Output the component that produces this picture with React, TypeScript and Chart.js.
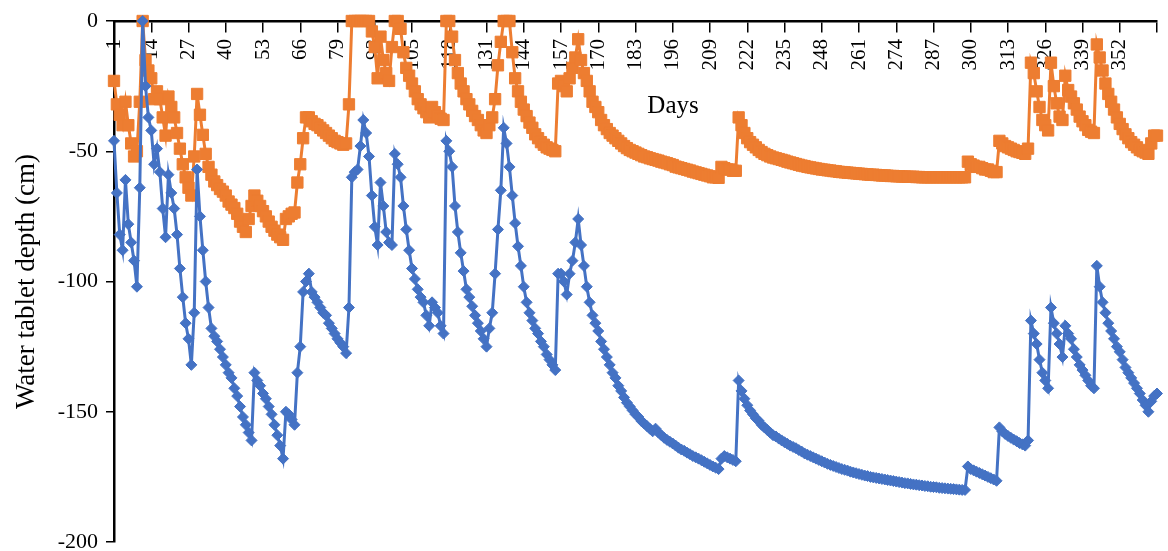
import React, { useEffect, useRef } from 'react';
import { Chart, registerables } from 'chart.js';

Chart.register(...registerables);

// Categories: day of year
const days: number[] = Array.from({ length: 365 }, (_, i) => i + 1);

// Tick labels
const xTickDays: number[] = [1, 14, 27, 40, 53, 66, 79, 92, 105, 118, 131, 144, 157, 170, 183, 196, 209, 222, 235, 248, 261, 274, 287, 300, 313, 326, 339, 352];
const xAxisEnd = 365;
const yTicks: number[] = [0, -50, -100, -150, -200];

// Series 1 (blue, diamonds) – water table depth (cm), days 1..365
const blueDepth: number[] = [
  -46, -66, -82, -88, -61, -78, -85, -92, -102, -64,
  0, -25, -37, -42, -55, -49, -58, -72, -83, -59,
  -66, -72, -82, -95, -106, -116, -122, -132, -112, -57,
  -75, -88, -100, -110, -118, -121, -123, -126, -129, -132,
  -135, -137, -141, -144, -148, -152, -155, -158, -161, -135,
  -138, -140, -143, -145, -148, -151, -155, -159, -163, -168,
  -150, -151, -153, -155, -135, -125, -104, -100, -97, -104,
  -106, -108, -110, -112, -113, -116, -118, -120, -122, -123.5,
  -125, -127.5, -110, -60, -58, -57, -48, -38, -43, -52,
  -67, -79, -86, -62, -71, -81, -85, -86, -51, -55,
  -60, -71, -80, -88, -95, -99, -103, -106, -108, -113,
  -117, -108, -110, -112, -117, -120, -46, -50, -56, -71,
  -81, -89, -96, -103, -106, -109.5, -113, -116, -119, -122,
  -125, -118, -112, -97, -80, -65, -41, -47, -56, -67,
  -77.6, -86.5, -94, -102, -108, -112, -115, -118, -120, -123,
  -125, -128, -130, -132, -134, -97, -97, -100, -105, -97,
  -92, -85, -76, -86, -94, -102, -108, -113, -116, -119,
  -123, -126, -129, -132, -135, -137, -140, -142, -144.5, -146.5,
  -148, -149.5, -151, -152, -153.5, -154.5, -155.5, -156.5, -157.5, -156.5,
  -158, -159, -160, -160.8, -161.5, -162.2, -163, -163.8, -164.5, -165,
  -165.7, -166.3, -167, -167.5, -168, -168.6, -169.2, -169.8, -170.4, -171,
  -171.5, -172, -168, -167, -167.5, -168, -168.5, -169, -138, -142,
  -145, -147.5, -149.5, -151, -152.5, -153.5, -155, -156, -157, -158,
  -159, -159.5, -160.3, -161, -161.7, -162.3, -163, -163.5, -164, -164.7,
  -165.3, -166, -166.5, -167, -167.5, -168, -168.5, -169, -169.5, -170,
  -170.4, -170.8, -171.2, -171.6, -172, -172.3, -172.6, -173, -173.3, -173.6,
  -173.9, -174.2, -174.5, -174.7, -175, -175.2, -175.4, -175.6, -175.8, -176,
  -176.2, -176.4, -176.6, -176.8, -177, -177.2, -177.4, -177.5, -177.7, -177.9,
  -178, -178.2, -178.3, -178.5, -178.6, -178.8, -178.9, -179, -179.2, -179.3,
  -179.4, -179.5, -179.6, -179.7, -179.8, -179.9, -180, -180, -171, -172,
  -172.5, -173, -173.5, -174, -174.5, -175, -175.5, -176, -176.5, -156,
  -157.5, -158.5, -159.3, -160, -160.7, -161.3, -162, -162.5, -163, -161,
  -115, -120, -124, -130, -135, -138, -141, -110, -116, -120,
  -124, -129, -117, -120, -122, -126, -129, -132, -134, -136,
  -138, -140, -141, -94, -102, -108, -112, -116, -119, -122,
  -125, -127, -130, -133, -135, -137, -139, -141, -143, -145.5,
  -147.5, -150, -146, -144, -143,
];

// Series 2 (orange, squares) – water table depth (cm), days 1..365
const orangeDepth: number[] = [
  -23, -32, -36, -40, -31, -40, -47, -52, -50, -31,
  0, -15, -19, -22, -30, -27, -30, -37, -44, -29,
  -33, -37, -43, -49, -55, -60, -64, -67, -52, -28,
  -36, -43.7, -51, -56, -59, -61.6, -63, -64.5, -65.5, -67,
  -69.3, -70.5, -71.8, -74, -77, -79, -81, -76, -71, -67,
  -69, -71, -73, -75, -77, -79, -80.5, -82, -83, -84,
  -76, -75, -74, -73.5, -62, -55, -45, -37, -37, -38.5,
  -39.5, -40, -41, -42, -43, -44, -45, -46, -46.5, -47,
  -47.5, -47, -32, 0, 0, 0, 0, 0, 0, 0,
  -4, -10, -22, -6, -15, -20, -23, -10, 0, 0,
  -3, -12, -18, -21, -24, -27, -30, -32, -33.5, -35,
  -37, -33, -35, -36.5, -37.5, -38, 0, 0, -6, -15,
  -20, -24, -27, -30, -32, -34.5, -36.5, -38, -40, -42,
  -43, -40, -37, -30, -17, -8, 0, 0, 0, -12,
  -22, -27, -31, -34, -36.5, -39, -41, -43.5, -45, -46.5,
  -47.5, -48.5, -49, -49.5, -50, -24, -23, -25, -27, -22,
  -18, -14, -7, -15, -20, -23, -27, -31, -33, -35,
  -38, -40, -41.5, -43, -44, -45, -46, -47, -48, -48.8,
  -49.5, -50, -50.5, -51, -51.5, -52, -52.3, -52.7, -53, -53.3,
  -53.6, -54, -54.3, -54.6, -55, -55.3, -55.9, -56.2, -56.5, -56.8,
  -57.1, -57.4, -57.8, -58.1, -58.4, -58.7, -59, -59.3, -59.6, -60,
  -60, -60.2, -56, -56.5, -57, -57, -57.5, -57.5, -37, -40,
  -43, -45, -46.5, -47.5, -48.5, -49.5, -50.3, -51, -51.5, -52,
  -52.4, -52.7, -53, -53.3, -53.6, -54, -54.3, -54.6, -54.9, -55.2,
  -55.5, -55.7, -56, -56.2, -56.4, -56.6, -56.8, -57, -57.1, -57.3,
  -57.4, -57.6, -57.7, -57.9, -58, -58.1, -58.2, -58.3, -58.4, -58.5,
  -58.6, -58.7, -58.8, -58.9, -59, -59, -59.1, -59.2, -59.3, -59.3,
  -59.4, -59.5, -59.5, -59.6, -59.6, -59.7, -59.7, -59.8, -59.8, -59.8,
  -59.9, -59.9, -60, -60, -60, -60, -60, -60, -60, -60,
  -60, -60, -60, -60, -60, -60, -60, -60, -54, -55,
  -55.5, -56, -56, -56.5, -57, -57, -57.5, -58, -58, -46,
  -47, -48, -48.5, -49, -49.5, -50, -50.3, -50.6, -51, -49,
  -16, -20, -27, -33, -38, -40, -42, -16, -25, -31.6,
  -36.7, -38, -21, -26.5, -29, -31.6, -34, -36.7, -38.5, -40,
  -41.8, -42.5, -43, -9, -14, -19, -24, -28, -31, -34,
  -37, -39.5, -41.5, -43.5, -45, -46.5, -47.5, -48.5, -49.5, -50,
  -50.5, -51, -47, -44, -44,
];

const FONT = '"Liberation Serif", "Times New Roman", serif';

const daysTitlePlugin = {
  id: 'daysTitle',
  afterDraw(chart: any) {
    const { ctx, chartArea } = chart;
    ctx.save();
    ctx.font = `25px ${FONT}`;
    ctx.fillStyle = '#000';
    ctx.textAlign = 'center';
    ctx.textBaseline = 'middle';
    ctx.fillText('Days', chartArea.left + (chartArea.right - chartArea.left) * 0.536, chartArea.top + 85);
    ctx.restore();
  },
};

export default function App() {
  const canvasRef = useRef<HTMLCanvasElement | null>(null);

  useEffect(() => {
    const canvas = canvasRef.current;
    if (!canvas) return;
    const chart = new Chart(canvas, {
      type: 'line',
      data: {
        datasets: [
          {
            label: 'Series 1',
            data: days.map((d, i) => ({ x: d, y: blueDepth[i] })),
            borderColor: '#4472C4',
            backgroundColor: '#4472C4',
            borderWidth: 3,
            pointStyle: 'rectRot',
            pointRadius: 5.5,
            pointBorderWidth: 1,
            pointBackgroundColor: '#4472C4',
            pointBorderColor: '#4472C4',
            tension: 0,
            clip: false as any,
          },
          {
            label: 'Series 2',
            data: days.map((d, i) => ({ x: d, y: orangeDepth[i] })),
            borderColor: '#ED7D31',
            backgroundColor: '#ED7D31',
            borderWidth: 3,
            pointStyle: 'rect',
            pointRadius: 8,
            pointBorderWidth: 1,
            pointBackgroundColor: '#ED7D31',
            pointBorderColor: '#ED7D31',
            tension: 0,
            clip: false as any,
          },
        ],
      },
      options: {
        responsive: false,
        animation: false,
        devicePixelRatio: 1,
        events: [],
        layout: { padding: { left: 0, top: 21, right: 11, bottom: 8 } },
        plugins: {
          legend: { display: false },
          tooltip: { enabled: false },
        },
        scales: {
          x: {
            type: 'linear',
            min: 1,
            max: xAxisEnd,
            position: { y: 0 } as any,
            z: 1,
            afterBuildTicks: (scale: any) => {
              scale.ticks = [...xTickDays, xAxisEnd].map((v) => ({ value: v }));
            },
            afterFit: (scale: any) => {
              scale.paddingLeft = 0;
              scale.paddingRight = 0;
              scale.paddingTop = 0;
              scale.paddingBottom = 0;
            },
            ticks: {
              autoSkip: false,
              minRotation: 90,
              maxRotation: 90,
              padding: 8,
              color: '#000',
              font: { family: FONT, size: 21 },
              callback: (v: any) => (xTickDays.includes(Number(v)) ? String(v) : ''),
            },
            grid: { drawOnChartArea: false, drawTicks: true, tickLength: 10, color: '#000', lineWidth: 1.5 },
            border: { display: true, color: '#000', width: 2.5 },
          },
          y: {
            type: 'linear',
            min: -200,
            max: 0,
            position: 'left',
            afterBuildTicks: (scale: any) => {
              scale.ticks = yTicks.map((v) => ({ value: v }));
            },
            afterFit: (scale: any) => {
              scale.width = 114;
              scale.paddingTop = 0;
              scale.paddingBottom = 0;
            },
            ticks: {
              color: '#000',
              padding: 8,
              font: { family: FONT, size: 22 },
              callback: (v: any) => String(v),
            },
            grid: { drawOnChartArea: false, drawTicks: true, tickLength: 8, color: '#000', lineWidth: 1.5 },
            border: { display: true, color: '#000', width: 2.5 },
            title: {
              display: true,
              text: 'Water tablet depth (cm)',
              color: '#000',
              font: { family: FONT, size: 27 },
              padding: { top: 11, bottom: 0 },
            },
          },
        },
      },
      plugins: [daysTitlePlugin],
    });
    return () => chart.destroy();
  }, []);

  return (
    <div style={{ position: 'fixed', left: 0, top: 0, width: 1168, height: 551, background: '#fff' }}>
      <canvas ref={canvasRef} width={1168} height={551} style={{ display: 'block' }} />
    </div>
  );
}
